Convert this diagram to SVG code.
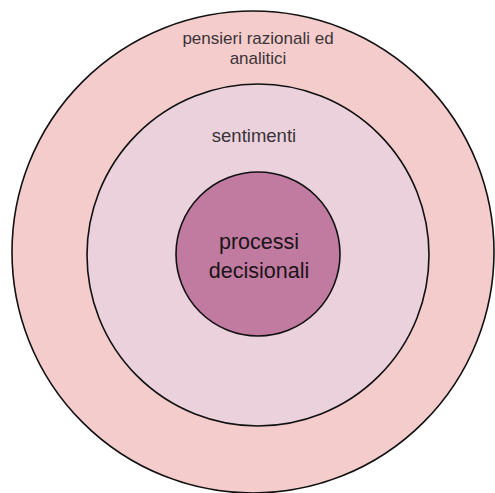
<svg xmlns="http://www.w3.org/2000/svg" width="495" height="493" viewBox="0 0 495 493">
<style>
.ring{stroke:#111;stroke-width:1.6}
.lbl{font-family:"Liberation Sans","DejaVu Sans",sans-serif;text-anchor:middle;fill:#3b3337}
.core{font-family:"Liberation Sans","DejaVu Sans",sans-serif;text-anchor:middle;fill:#1a1418}
</style>
<rect width="495" height="493" fill="#ffffff"/>
<g id="outer">
<circle class="ring" cx="253" cy="252" r="241" fill="#f4cccc"/>
<text class="lbl" x="258" y="44" font-size="17">pensieri razionali ed</text>
<text class="lbl" x="258" y="64" font-size="17">analitici</text>
</g>
<g id="middle">
<circle class="ring" cx="258" cy="255" r="171" fill="#ead1dc"/>
<text class="lbl" x="254" y="142" font-size="18.5">sentimenti</text>
</g>
<g id="inner">
<circle class="ring" cx="258" cy="254" r="82" fill="#c27ba0"/>
<text class="core" x="259" y="249" font-size="21.5">processi</text>
<text class="core" x="259" y="278" font-size="21.5">decisionali</text>
</g>
<g id="connectors"/>
</svg>
